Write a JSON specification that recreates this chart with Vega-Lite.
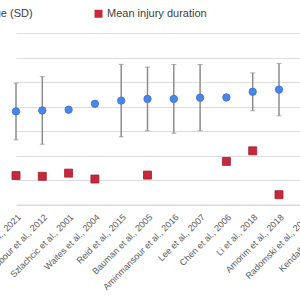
{
  "$schema": "https://vega.github.io/schema/vega-lite/v6.json",
  "width": 300,
  "height": 171.5,
  "autosize": {"type": "none"},
  "padding": {"left": 0, "top": 33, "right": 0, "bottom": 95.5},
  "background": "white",
  "config": {
    "view": {"stroke": null},
    "font": "Liberation Sans"
  },
  "data": {
    "values": [
      {"study": "Wang et al., 2021", "measure": "Mean age (SD)", "value": 38.0, "sd": 11.6},
      {"study": "Wang et al., 2021", "measure": "Mean injury duration", "value": 11.8},
      {"study": "Jabbour et al., 2012", "measure": "Mean age (SD)", "value": 38.4, "sd": 13.8},
      {"study": "Jabbour et al., 2012", "measure": "Mean injury duration", "value": 11.5},
      {"study": "Szlachcic et al., 2001", "measure": "Mean age (SD)", "value": 38.7},
      {"study": "Szlachcic et al., 2001", "measure": "Mean injury duration", "value": 12.8},
      {"study": "Waites et al., 2004", "measure": "Mean age (SD)", "value": 41.1},
      {"study": "Waites et al., 2004", "measure": "Mean injury duration", "value": 10.4},
      {"study": "Reid et al., 2015", "measure": "Mean age (SD)", "value": 42.4, "sd": 14.8},
      {"study": "Bauman et al., 2005", "measure": "Mean age (SD)", "value": 43.1, "sd": 13.0},
      {"study": "Bauman et al., 2005", "measure": "Mean injury duration", "value": 12.0},
      {"study": "Aminmansour et al., 2016", "measure": "Mean age (SD)", "value": 43.1, "sd": 14.0},
      {"study": "Lee et al., 2007", "measure": "Mean age (SD)", "value": 43.6, "sd": 13.5},
      {"study": "Chen et al., 2006", "measure": "Mean age (SD)", "value": 43.7},
      {"study": "Chen et al., 2006", "measure": "Mean injury duration", "value": 17.6},
      {"study": "Li et al., 2018", "measure": "Mean age (SD)", "value": 46.0, "sd": 7.7},
      {"study": "Li et al., 2018", "measure": "Mean injury duration", "value": 21.9},
      {"study": "Amorim et al., 2018", "measure": "Mean age (SD)", "value": 46.9, "sd": 10.7},
      {"study": "Amorim et al., 2018", "measure": "Mean injury duration", "value": 4.0}
    ]
  },
  "encoding": {
    "x": {
      "field": "study",
      "type": "nominal",
      "sort": null,
      "scale": {
        "type": "point",
        "padding": 0,
        "range": [16, 331.6],
        "domain": [
          "Wang et al., 2021", "Jabbour et al., 2012", "Szlachcic et al., 2001",
          "Waites et al., 2004", "Reid et al., 2015", "Bauman et al., 2005",
          "Aminmansour et al., 2016", "Lee et al., 2007", "Chen et al., 2006",
          "Li et al., 2018", "Amorim et al., 2018", "Radomski et al., 2019",
          "Kendall et al., 2020"
        ]
      },
      "axis": {
        "title": null,
        "labelAngle": -45,
        "labelFontSize": 9,
        "labelColor": "#595959",
        "labelPadding": 8,
        "labelOverlap": false,
        "ticks": false,
        "domainColor": "#d9d9d9",
        "grid": false
      }
    },
    "y": {
      "field": "value",
      "type": "quantitative",
      "scale": {"domain": [0, 70]},
      "axis": {
        "title": null,
        "values": [0, 10, 20, 30, 40, 50, 60, 70],
        "labels": false,
        "ticks": false,
        "domain": false,
        "gridColor": "#dddddd",
        "gridWidth": 1
      }
    }
  },
  "layer": [
    {
      "transform": [{"filter": "datum.sd != null"}],
      "mark": {
        "type": "errorbar",
        "ticks": {"size": 5, "color": "#8c8c8c", "strokeWidth": 1},
        "rule": {"color": "#8c8c8c", "strokeWidth": 1.5}
      },
      "encoding": {
        "yError": {"field": "sd"}
      }
    },
    {
      "mark": {"type": "point", "filled": true, "opacity": 1, "strokeWidth": 0.8},
      "encoding": {
        "color": {
          "field": "measure",
          "type": "nominal",
          "scale": {
            "domain": ["Mean age (SD)", "Mean injury duration"],
            "range": ["#4a86e8", "#c8283c"]
          },
          "legend": {
            "title": null,
            "orient": "none",
            "direction": "horizontal",
            "legendX": -56,
            "legendY": -25,
            "labelFontSize": 11,
            "labelColor": "#404040",
            "labelOffset": 3,
            "symbolSize": 55,
            "columnPadding": 60,
            "symbolStrokeWidth": 0
          }
        },
        "shape": {
          "field": "measure",
          "type": "nominal",
          "scale": {
            "domain": ["Mean age (SD)", "Mean injury duration"],
            "range": ["circle", "square"]
          },
          "legend": null
        },
        "size": {
          "field": "measure",
          "type": "nominal",
          "scale": {
            "domain": ["Mean age (SD)", "Mean injury duration"],
            "range": [55, 64]
          },
          "legend": null
        },
        "stroke": {
          "field": "measure",
          "type": "nominal",
          "scale": {
            "domain": ["Mean age (SD)", "Mean injury duration"],
            "range": ["#3a6fcf", "#9e1e30"]
          },
          "legend": null
        }
      }
    }
  ]
}
